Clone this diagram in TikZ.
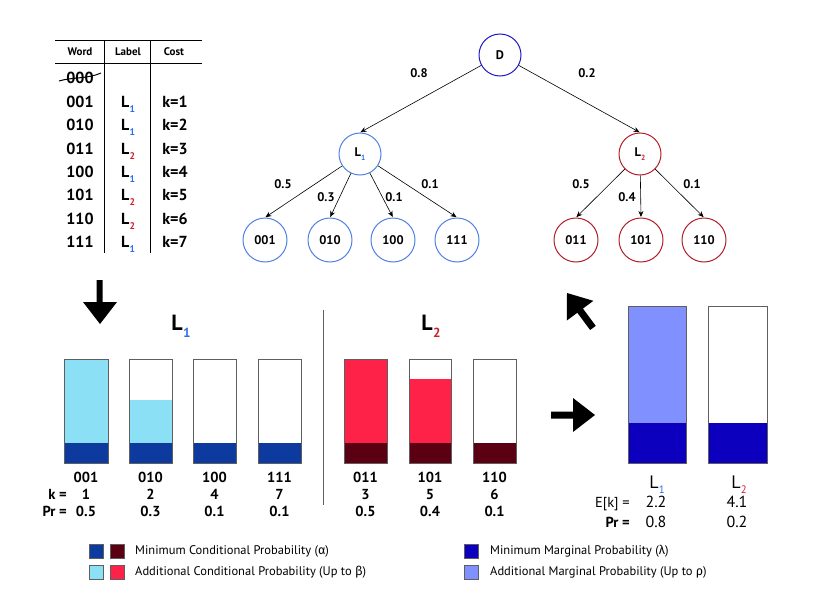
\documentclass[tikz,border=0pt]{standalone}
\usepackage{fontspec}
\setmainfont{PT Sans}
\newfontfamily\grk{Fira Sans}
\usetikzlibrary{arrows.meta}
\definecolor{condDark}{RGB}{13,58,158}
\definecolor{condLight}{RGB}{139,224,245}
\definecolor{redDark}{RGB}{90,0,18}
\definecolor{redLight}{RGB}{255,34,72}
\definecolor{margDark}{RGB}{12,0,190}
\definecolor{margLight}{RGB}{128,144,255}
\definecolor{Dcol}{RGB}{30,25,200}
\definecolor{Lonecol}{RGB}{80,130,230}
\definecolor{Ltwocol}{RGB}{180,30,40}
\definecolor{subone}{RGB}{40,110,240}
\definecolor{subtwo}{RGB}{205,30,45}
\definecolor{barline}{RGB}{95,95,95}
\newcommand\fsz[1]{\fontsize{#1}{#1}\selectfont}
\newcommand\Lsub[2]{L\kern0.3pt\raisebox{-0.32em}{\scalebox{0.6}{\color{#1}#2}}}
% #1 x-left, #2 x-right, #3 top of light fill, #4 light colour, #5 dark colour, #6 bar top
\newcommand\probbar[6]{%
  \fill[#4] (#1,#3) rectangle (#2,463);
  \fill[#5] (#1,443) rectangle (#2,463);
  \draw[barline,line width=1pt] (#1,#6) rectangle (#2,463);
}
\newcommand\margbar[4]{%
  \fill[#3] (#1,#4) rectangle (#2,463);
  \fill[margDark] (#1,423) rectangle (#2,463);
  \draw[barline,line width=1pt] (#1,306) rectangle (#2,463);
}
\begin{document}
\begin{tikzpicture}[x=1pt,y=-1pt,
  tcell/.style={anchor=base,inner sep=0pt,font=\bfseries\fsz{16}},
  thead/.style={anchor=base,inner sep=0pt,font=\bfseries\fsz{11}},
  tnode/.style={circle,draw,line width=1pt,minimum size=42pt,inner sep=0pt,font=\bfseries\fsz{12.5}},
  leaf/.style={tnode,minimum size=44pt},
  elab/.style={inner sep=0pt,font=\bfseries\fsz{12.5}},
  edge/.style={line width=0.6pt,-{Stealth[length=6pt,width=5pt]},shorten >=0.5pt},
  blab/.style={inner sep=0pt,anchor=base,font=\bfseries\fsz{14.5}},
  rlab/.style={inner sep=0pt,anchor=base,font=\fsz{16}},
  ttl/.style={inner sep=0pt,anchor=base,font=\bfseries\fsz{22}},
  sq/.style={draw=barline,line width=0.6pt,minimum size=14pt,inner sep=0pt},
  legtxt/.style={anchor=west,inner sep=0pt,font=\fsz{12.5}},
  bigarrow/.style={fill=black}
]
\useasboundingbox (0,0) rectangle (830,605);
\fill[white] (0,0) rectangle (830,605);

% ---------------- table ----------------
\draw[line width=1pt] (55,40) -- (202,40);
\draw[line width=1pt] (55,63) -- (202,63);
\draw[line width=1pt] (104,40) -- (104,253);
\draw[line width=1pt] (150,40) -- (150,253);
\node[thead] (hw) at (80,55) {Word};
\node[thead] (hl) at (128,55) {Label};
\node[thead] (hc) at (174,55) {Cost};

\node[tcell] (w0) at (80,83) {000};
\draw[line width=1pt] (59,81) .. controls (72,77) and (88,79) .. (101,73);
\node[tcell] (w1) at (80,107) {001};
\node[tcell] (w2) at (80,130) {010};
\node[tcell] (w3) at (80,154) {011};
\node[tcell] (w4) at (80,177) {100};
\node[tcell] (w5) at (80,200) {101};
\node[tcell] (w6) at (80,224) {110};
\node[tcell] (w7) at (80,247) {111};

\node[tcell] (l1) at (128,107) {\Lsub{subone}{1}};
\node[tcell] (l2) at (128,130) {\Lsub{subone}{1}};
\node[tcell] (l3) at (128,154) {\Lsub{subtwo}{2}};
\node[tcell] (l4) at (128,177) {\Lsub{subone}{1}};
\node[tcell] (l5) at (128,200) {\Lsub{subtwo}{2}};
\node[tcell] (l6) at (128,224) {\Lsub{subtwo}{2}};
\node[tcell] (l7) at (128,247) {\Lsub{subone}{1}};

\node[tcell] (k1) at (175,107) {k=1};
\node[tcell] (k2) at (175,130) {k=2};
\node[tcell] (k3) at (175,154) {k=3};
\node[tcell] (k4) at (175,177) {k=4};
\node[tcell] (k5) at (175,200) {k=5};
\node[tcell] (k6) at (175,224) {k=6};
\node[tcell] (k7) at (175,247) {k=7};

% ---------------- tree ----------------
\node[tnode,draw=Dcol] (D) at (500,55) {D};
\node[tnode,draw=Lonecol] (L1) at (360,154) {\Lsub{subone}{1}};
\node[tnode,draw=Ltwocol] (L2) at (640,154) {\Lsub{subtwo}{2}};
\node[leaf,draw=Lonecol] (a1) at (265,240) {001};
\node[leaf,draw=Lonecol] (a2) at (330,240) {010};
\node[leaf,draw=Lonecol] (a3) at (393,240) {100};
\node[leaf,draw=Lonecol] (a4) at (457,240) {111};
\node[leaf,draw=Ltwocol] (b1) at (576,240) {011};
\node[leaf,draw=Ltwocol] (b2) at (641,240) {101};
\node[leaf,draw=Ltwocol] (b3) at (704,240) {110};

\draw[edge] (D) -- (L1.north);
\draw[edge] (D) -- (L2.north);
\draw[edge] (L1) -- (a1.north);
\draw[edge] (L1) -- (a2.north);
\draw[edge] (L1) -- (a3.north);
\draw[edge] (L1) -- (a4.north);
\draw[edge] (L2) -- (b1.north);
\draw[edge] (L2) -- (b2.north);
\draw[edge] (L2) -- (b3.north);

\node[elab] (e1) at (419,73) {0.8};
\node[elab] (e2) at (587,73) {0.2};
\node[elab] (e3) at (283,184) {0.5};
\node[elab] (e4) at (326,197) {0.3};
\node[elab] (e5) at (394,197) {0.1};
\node[elab] (e6) at (430,184) {0.1};
\node[elab] (e7) at (581,184) {0.5};
\node[elab] (e8) at (627,197) {0.4};
\node[elab] (e9) at (692,184) {0.1};

% ---------------- big arrows ----------------
\fill[bigarrow] (96.5,280) -- (102.5,280) -- (102.5,302) -- (117,302) -- (100,324) -- (83,302) -- (96.5,302) -- cycle;
\fill[bigarrow] (551,411.5) -- (573,411.5) -- (573,398) -- (595,415) -- (573,432) -- (573,418.5) -- (551,418.5) -- cycle;
\begin{scope}[shift={(567,293)},rotate=126.6]
  \fill[bigarrow] (0,0) -- (-22,16.5) -- (-22,3.5) -- (-43.5,3.5) -- (-43.5,-3.5) -- (-22,-3.5) -- (-22,-16.5) -- cycle;
\end{scope}

% ---------------- conditional bars ----------------
\node[ttl] (T1) at (181,330) {\Lsub{subone}{1}};
\node[ttl] (T2) at (431,330) {\Lsub{subtwo}{2}};
\draw[barline,line width=1pt] (323,310) -- (323,505);

\probbar{64}{108}{359}{condLight}{condDark}{359}
\probbar{129}{172}{400}{condLight}{condDark}{359}
\probbar{193}{236}{443}{condLight}{condDark}{359}
\probbar{258}{301}{443}{condLight}{condDark}{359}
\probbar{344}{387}{359}{redLight}{redDark}{359}
\probbar{409}{451}{379}{redLight}{redDark}{359}
\probbar{473}{516}{443}{redLight}{redDark}{359}

\node[blab,anchor=base east] (kk) at (67,499) {k =};
\node[blab,anchor=base east] (pp) at (67,516) {Pr =};
\node[blab] (c1w) at (86,482) {001};   \node[blab] (c1k) at (86,499) {1};   \node[blab] (c1p) at (86,516) {0.5};
\node[blab] (c2w) at (150.5,482) {010}; \node[blab] (c2k) at (150.5,499) {2}; \node[blab] (c2p) at (150.5,516) {0.3};
\node[blab] (c3w) at (214.5,482) {100}; \node[blab] (c3k) at (214.5,499) {4}; \node[blab] (c3p) at (214.5,516) {0.1};
\node[blab] (c4w) at (279.5,482) {111}; \node[blab] (c4k) at (279.5,499) {7}; \node[blab] (c4p) at (279.5,516) {0.1};
\node[blab] (d1w) at (365.5,482) {011}; \node[blab] (d1k) at (365.5,499) {3}; \node[blab] (d1p) at (365.5,516) {0.5};
\node[blab] (d2w) at (430,482) {101};   \node[blab] (d2k) at (430,499) {5};   \node[blab] (d2p) at (430,516) {0.4};
\node[blab] (d3w) at (494.5,482) {110}; \node[blab] (d3k) at (494.5,499) {6}; \node[blab] (d3p) at (494.5,516) {0.1};

% ---------------- marginal bars ----------------
\margbar{628}{686}{margLight}{306}
\margbar{708}{767}{white}{306}
\node[rlab,font=\fsz{18}] (m1) at (657,488) {\Lsub{subone}{1}};
\node[rlab,font=\fsz{18}] (m2) at (739,488) {\Lsub{subtwo}{2}};
\node[rlab,anchor=base east,font=\fsz{14.5}] (ek) at (630,507) {E[k] =};
\node[rlab] (m1e) at (656,507) {2.2};
\node[rlab] (m2e) at (737,507) {4.1};
\node[rlab,anchor=base east,font=\bfseries\fsz{14.5}] (mp) at (630,527) {Pr =};
\node[rlab] (m1p) at (656,527) {0.8};
\node[rlab] (m2p) at (737,527) {0.2};

% ---------------- legend ----------------
\node[sq,fill=condDark] (s1) at (96,551) {};
\node[sq,fill=redDark] (s2) at (117,551) {};
\node[sq,fill=condLight] (s3) at (96,572) {};
\node[sq,fill=redLight] (s4) at (117,572) {};
\node[sq,fill=margDark] (s5) at (471,551) {};
\node[sq,fill=margLight] (s6) at (471,572) {};
\node[legtxt] (t1) at (135,551) {Minimum Conditional Probability ({\grk α})};
\node[legtxt] (t2) at (135,572) {Additional Conditional Probability (Up to {\grk β})};
\node[legtxt] (t3) at (490,551) {Minimum Marginal Probability ({\grk λ})};
\node[legtxt] (t4) at (490,572) {Additional Marginal Probability (Up to {\grk ρ})};
\end{tikzpicture}
\end{document}
